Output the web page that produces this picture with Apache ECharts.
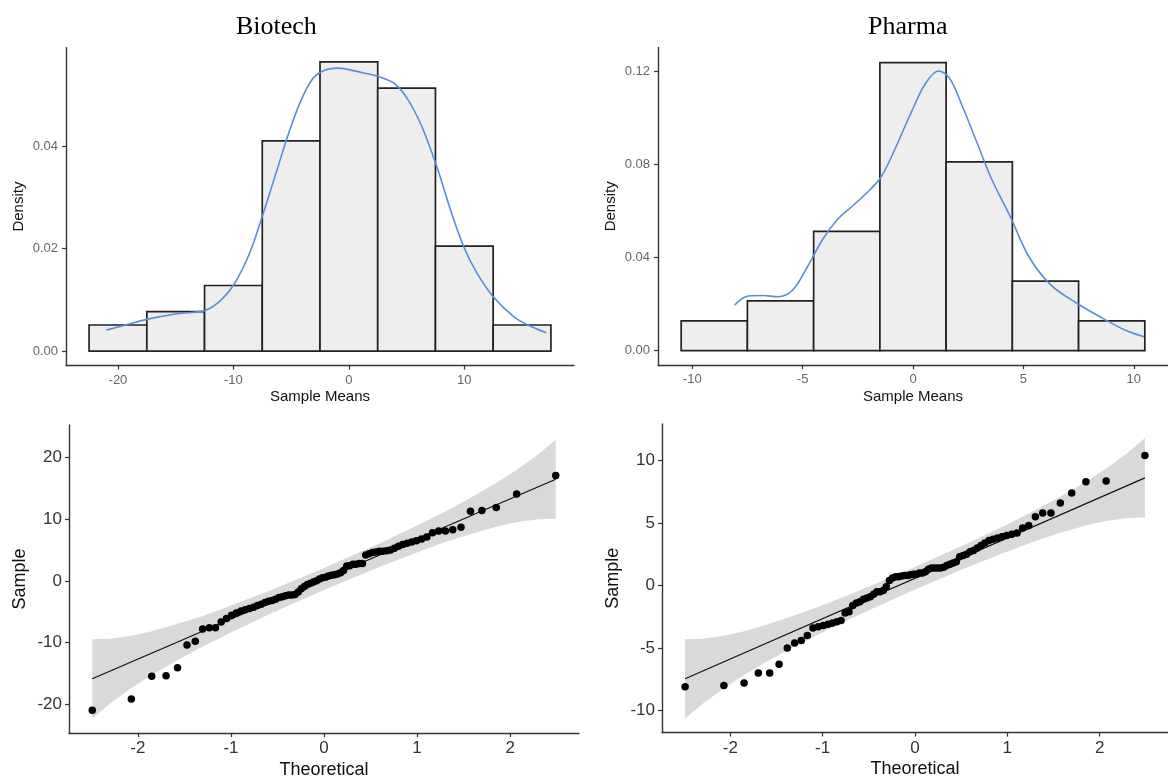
<!DOCTYPE html>
<html>
<head>
<meta charset="utf-8">
<script src="https://cdn.jsdelivr.net/npm/echarts@6/dist/echarts.min.js"></script>
<style>
  html, body { margin: 0; padding: 0; background: #ffffff; }
  #chart { width: 1168px; height: 783px; }
</style>
</head>
<body>
<div id="chart"></div>
<script>
// ---- Histogram bins (density scale) ----
const biotechBinEdges = [-22.5, -17.5, -12.5, -7.5, -2.5, 2.5, 7.5, 12.5, 17.5];
const biotechBinDensity = [0.0051, 0.0077, 0.0128, 0.0410, 0.0564, 0.0513, 0.0205, 0.0051];
const pharmaBinEdges = [-10.5, -7.5, -4.5, -1.5, 1.5, 4.5, 7.5, 10.5];
const pharmaBinDensity = [0.0128, 0.0214, 0.0513, 0.1239, 0.0812, 0.0299, 0.0128];

// ---- Kernel density curves ----
const biotechKdeX = [-21.0, -19.5, -17.5, -14.9, -12.5, -11.1, -9.9, -8.6, -7.5, -6.3, -5.2, -4.1, -2.9, -1.0, 0.0, 1.2, 2.5, 4.0, 5.1, 6.3, 7.6, 8.9, 10.0, 11.1, 12.5, 14.3, 15.6, 17.1];
const biotechKdeY = [0.0041, 0.0050, 0.0062, 0.0073, 0.0079, 0.0099, 0.0132, 0.0191, 0.0263, 0.0348, 0.0426, 0.0491, 0.0537, 0.0552, 0.0549, 0.0543, 0.0536, 0.0521, 0.0491, 0.0439, 0.0361, 0.0269, 0.0201, 0.0152, 0.0106, 0.0067, 0.0050, 0.0036];
const pharmaKdeX = [-8.08, -7.46, -6.79, -6.12, -5.45, -4.78, -4.11, -3.44, -2.78, -2.11, -1.44, -0.77, -0.10, 0.57, 1.15, 1.66, 2.24, 2.91, 3.58, 4.41, 5.25, 6.25, 7.42, 8.60, 9.60, 10.47];
const pharmaKdeY = [0.0196, 0.0235, 0.0237, 0.0232, 0.0261, 0.0361, 0.0476, 0.0562, 0.0619, 0.0677, 0.0748, 0.0877, 0.1021, 0.1150, 0.1203, 0.1171, 0.1050, 0.0892, 0.0734, 0.0576, 0.0404, 0.0282, 0.0204, 0.0139, 0.0089, 0.0060];

// ---- Q-Q plots: theoretical normal quantiles (n = 78) ----
const theoretical = [
  -2.490, -2.070, -1.851, -1.697, -1.574, -1.472, -1.383, -1.304, -1.232, -1.166,
  -1.105, -1.048, -0.993, -0.942, -0.893, -0.846, -0.801, -0.757, -0.715, -0.674,
  -0.634, -0.596, -0.558, -0.521, -0.484, -0.448, -0.413, -0.379, -0.344, -0.311,
  -0.277, -0.244, -0.210, -0.178, -0.145, -0.113, -0.080, -0.048, -0.016,
   0.016,  0.048,  0.080,  0.113,  0.145,  0.178,  0.210,  0.244,  0.277,  0.311,
   0.344,  0.379,  0.413,  0.448,  0.484,  0.521,  0.558,  0.596,  0.634,  0.674,
   0.715,  0.757,  0.801,  0.846,  0.893,  0.942,  0.993,  1.048,  1.105,  1.166,
   1.232,  1.304,  1.383,  1.472,  1.574,  1.697,  1.851,  2.070,  2.490
];
const biotechSample = [
  -21.0, -19.2, -15.5, -15.4, -14.1, -10.4, -9.8, -7.8, -7.6, -7.6,
  -6.7, -6.1, -5.6, -5.2, -4.9, -4.7, -4.5, -4.3, -4.0, -3.8,
  -3.5, -3.3, -3.2, -3.0, -2.7, -2.6, -2.4, -2.3, -2.3, -2.2,
  -1.8, -1.3, -0.9, -0.6, -0.4, -0.2, 0.0, 0.3, 0.5,
  0.6, 0.8, 0.9, 1.0, 1.1, 1.3, 1.7, 2.4, 2.45, 2.7,
  2.7, 2.8, 2.8, 4.2, 4.4, 4.6, 4.7, 4.8, 4.8, 4.9,
  5.0, 5.3, 5.6, 5.9, 6.1, 6.3, 6.5, 6.8, 7.1, 7.8,
  8.1, 8.1, 8.3, 8.7, 11.3, 11.4, 11.9, 14.1, 17.1
];
const pharmaSample = [
  -8.1, -8.0, -7.8, -7.0, -7.0, -6.3, -5.0, -4.6, -4.4, -4.0,
  -3.4, -3.3, -3.2, -3.1, -3.0, -2.9, -2.8, -2.2, -2.1, -1.6,
  -1.4, -1.3, -1.1, -1.0, -0.9, -0.7, -0.5, -0.5, -0.4, -0.1,
  0.4, 0.6, 0.7, 0.7, 0.75, 0.8, 0.8, 0.85, 0.9,
  0.9, 1.0, 1.0, 1.1, 1.3, 1.4, 1.4, 1.4, 1.4, 1.45,
  1.6, 1.7, 1.8, 1.9, 2.3, 2.4, 2.5, 2.7, 2.8, 3.0,
  3.2, 3.4, 3.6, 3.7, 3.8, 3.9, 4.0, 4.1, 4.2, 4.6,
  4.8, 5.5, 5.8, 5.8, 6.6, 7.4, 8.3, 8.35, 10.4
];

// Reference lines (end points) and confidence bands
const biotechLine = [[-2.49, -15.9], [2.49, 16.5]];
const pharmaLine = [[-2.49, -7.47], [2.49, 8.6]];
const bandX = [-2.49, -2.3, -2.07, -1.85, -1.6, -1.3, -1.0, -0.6, 0.0, 0.6, 1.0, 1.3, 1.6, 1.85, 2.07, 2.3, 2.49];
const biotechBandUpper = [-9.5, -9.4, -8.9, -8.2, -7.1, -5.7, -4.0, -1.7, 2.1, 6.1, 9.0, 11.2, 13.7, 15.9, 18.0, 20.5, 22.9];
const biotechBandLower = [-22.3, -19.9, -17.4, -15.3, -13.1, -10.6, -8.4, -5.5, -1.5, 2.3, 4.6, 6.3, 7.7, 8.8, 9.5, 10.0, 10.1];
const pharmaBandUpper = [-4.3, -4.26, -4.02, -3.66, -3.13, -2.39, -1.58, -0.41, 1.47, 3.47, 4.88, 6.01, 7.21, 8.3, 9.36, 10.6, 11.79];
const pharmaBandLower = [-10.65, -9.46, -8.22, -7.16, -6.07, -4.87, -3.74, -2.33, -0.33, 1.55, 2.72, 3.53, 4.27, 4.8, 5.16, 5.4, 5.43];

const titles = ['Biotech', 'Pharma'];

// ---- helpers ----
const SANS = 'Liberation Sans, Arial, sans-serif';

function binData(edges, dens) {
  return dens.map((d, i) => [edges[i], edges[i + 1], d]);
}
function zip(xs, ys) { return xs.map((x, i) => [x, ys[i]]); }

function histSeries(idx, edges, dens) {
  return {
    type: 'custom', xAxisIndex: idx, yAxisIndex: idx,
    data: binData(edges, dens),
    encode: { x: [0, 1], y: 2 },
    renderItem: function (params, api) {
      const tl = api.coord([api.value(0), api.value(2)]);
      const br = api.coord([api.value(1), 0]);
      return {
        type: 'rect',
        shape: { x: tl[0], y: tl[1], width: br[0] - tl[0], height: br[1] - tl[1] },
        style: { fill: '#eeeeee', stroke: '#222', lineWidth: 1.7 }
      };
    },
    z: 2
  };
}
function kdeSeries(idx, xs, ys) {
  return {
    type: 'line', xAxisIndex: idx, yAxisIndex: idx,
    data: zip(xs, ys), smooth: 0.35, showSymbol: false,
    lineStyle: { color: '#5a8dd8', width: 1.6 }, z: 3
  };
}
function bandSeries(idx, xs, up, lo) {
  return {
    type: 'custom', xAxisIndex: idx, yAxisIndex: idx,
    data: [[0, 0]],
    renderItem: function (params, api) {
      const pts = [];
      for (let i = 0; i < xs.length; i++) pts.push(api.coord([xs[i], up[i]]));
      for (let i = xs.length - 1; i >= 0; i--) pts.push(api.coord([xs[i], lo[i]]));
      return { type: 'polygon', shape: { points: pts }, style: { fill: '#d9d9d9' } };
    },
    silent: true, z: 1
  };
}
function qqLineSeries(idx, ends) {
  return {
    type: 'line', xAxisIndex: idx, yAxisIndex: idx, data: ends,
    showSymbol: false, lineStyle: { color: '#111', width: 1.2 }, z: 3
  };
}
function qqPointSeries(idx, xs, ys) {
  return {
    type: 'scatter', xAxisIndex: idx, yAxisIndex: idx, data: zip(xs, ys),
    symbolSize: 7.5, itemStyle: { color: '#000', opacity: 1 }, z: 4
  };
}

function axisBase(gridIndex, min, max, ticks, opts) {
  return Object.assign({
    type: 'value', gridIndex: gridIndex, min: min, max: max,
    splitLine: { show: false },
    axisLine: { show: true, onZero: false, lineStyle: { color: '#333', width: 1.4 } },
    axisTick: { show: true, customValues: ticks, length: 4, lineStyle: { color: '#333', width: 1.2 } },
    nameLocation: 'middle'
  }, opts);
}

const smallLabel = { color: '#666', fontSize: 13, fontFamily: SANS };
const bigLabel = { color: '#333', fontSize: 17, fontFamily: SANS };
const smallName = { color: '#111', fontSize: 15, fontFamily: SANS };
const bigName = { color: '#111', fontSize: 18, fontFamily: SANS };
const titleStyle = { fontFamily: 'Liberation Serif, Times New Roman, serif', fontWeight: 'normal', fontSize: 26, color: '#000' };

const option = {
  backgroundColor: '#ffffff',
  animation: false,
  title: [
    { text: titles[0], left: 236, top: 14, padding: 0, textStyle: titleStyle },
    { text: titles[1], left: 868, top: 14, padding: 0, textStyle: titleStyle }
  ],
  grid: [
    { left: 66, top: 47.6, width: 508, height: 318 },
    { left: 658, top: 47.5, width: 513, height: 317.6 },
    { left: 69, top: 425, width: 510, height: 308 },
    { left: 662, top: 424, width: 507, height: 308.5 }
  ],
  xAxis: [
    axisBase(0, -24.5, 19.5, [-20, -10, 0, 10], {
      name: 'Sample Means', nameGap: 24, nameTextStyle: smallName,
      axisLabel: Object.assign({ customValues: [-20, -10, 0, 10], margin: 8 }, smallLabel)
    }),
    axisBase(1, -11.55, 11.55, [-10, -5, 0, 5, 10], {
      name: 'Sample Means', nameGap: 24, nameTextStyle: smallName,
      axisLabel: Object.assign({ customValues: [-10, -5, 0, 5, 10], margin: 8 }, smallLabel)
    }),
    axisBase(2, -2.74, 2.74, [-2, -1, 0, 1, 2], {
      name: 'Theoretical', nameGap: 28, nameTextStyle: bigName,
      axisLabel: Object.assign({ customValues: [-2, -1, 0, 1, 2], margin: 7 }, bigLabel)
    }),
    axisBase(3, -2.74, 2.74, [-2, -1, 0, 1, 2], {
      name: 'Theoretical', nameGap: 28, nameTextStyle: bigName,
      axisLabel: Object.assign({ customValues: [-2, -1, 0, 1, 2], margin: 7 }, bigLabel)
    })
  ],
  yAxis: [
    axisBase(0, -0.00282, 0.0592, [0, 0.02, 0.04], {
      name: 'Density', nameGap: 40, nameTextStyle: smallName,
      axisLabel: Object.assign({ customValues: [0, 0.02, 0.04], margin: 8,
        formatter: v => v.toFixed(2) }, smallLabel)
    }),
    axisBase(1, -0.00621, 0.1304, [0, 0.04, 0.08, 0.12], {
      name: 'Density', nameGap: 40, nameTextStyle: smallName,
      axisLabel: Object.assign({ customValues: [0, 0.04, 0.08, 0.12], margin: 8,
        formatter: v => v.toFixed(2) }, smallLabel)
    }),
    axisBase(2, -24.7, 25.3, [-20, -10, 0, 10, 20], {
      name: 'Sample', nameGap: 40, nameTextStyle: bigName,
      axisLabel: Object.assign({ customValues: [-20, -10, 0, 10, 20], margin: 7 }, bigLabel)
    }),
    axisBase(3, -11.77, 12.91, [-10, -5, 0, 5, 10], {
      name: 'Sample', nameGap: 40, nameTextStyle: bigName,
      axisLabel: Object.assign({ customValues: [-10, -5, 0, 5, 10], margin: 7 }, bigLabel)
    })
  ],
  series: [
    histSeries(0, biotechBinEdges, biotechBinDensity),
    kdeSeries(0, biotechKdeX, biotechKdeY),
    histSeries(1, pharmaBinEdges, pharmaBinDensity),
    kdeSeries(1, pharmaKdeX, pharmaKdeY),
    bandSeries(2, bandX, biotechBandUpper, biotechBandLower),
    qqLineSeries(2, biotechLine),
    qqPointSeries(2, theoretical, biotechSample),
    bandSeries(3, bandX, pharmaBandUpper, pharmaBandLower),
    qqLineSeries(3, pharmaLine),
    qqPointSeries(3, theoretical, pharmaSample)
  ]
};

const chart = echarts.init(document.getElementById('chart'), null, { renderer: 'canvas' });
chart.setOption(option);
</script>
</body>
</html>
